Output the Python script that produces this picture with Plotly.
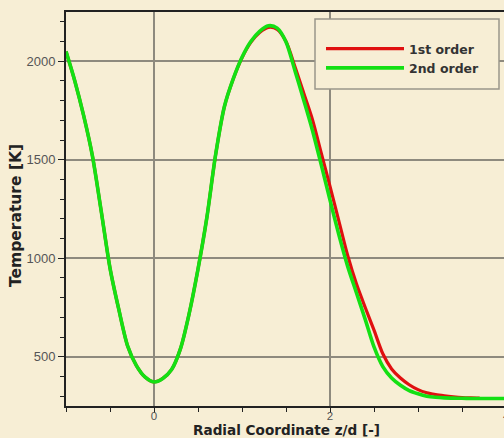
import plotly.graph_objects as go

# ---- data ----
z_2nd = [-1.0, -0.9, -0.8, -0.7, -0.6, -0.5, -0.4, -0.3, -0.2, -0.1,
         0.0, 0.1, 0.2, 0.3, 0.4, 0.5, 0.6, 0.7, 0.8, 0.9,
         1.0, 1.1, 1.2, 1.3, 1.4, 1.5, 1.6, 1.7, 1.8, 1.9,
         2.0, 2.1, 2.2, 2.3, 2.4, 2.5, 2.6, 2.7, 2.8, 2.9,
         3.0, 3.1, 3.2, 3.3, 3.4, 3.5, 3.6, 3.7, 3.8, 3.9, 4.0]
T_2nd = [2050, 1900, 1725, 1520, 1240, 950, 740, 555, 455, 396,
         372, 390, 435, 540, 720, 945, 1205, 1525, 1770, 1910,
         2020, 2100, 2152, 2180, 2168, 2098, 1955, 1805, 1650, 1475,
         1295, 1120, 960, 825, 690, 550, 450, 392, 355, 328,
         312, 300, 294, 291, 290, 289, 288, 288, 288, 288, 288]

z_1st = [-1.0, -0.9, -0.8, -0.7, -0.6, -0.5, -0.4, -0.3, -0.2, -0.1,
         0.0, 0.1, 0.2, 0.3, 0.4, 0.5, 0.6, 0.7, 0.8, 0.9,
         1.0, 1.1, 1.2, 1.3, 1.4, 1.5, 1.6, 1.7, 1.8, 1.9,
         2.0, 2.1, 2.2, 2.3, 2.4, 2.5, 2.6, 2.7, 2.8, 2.9,
         3.0, 3.1, 3.2, 3.3, 3.4, 3.5, 3.6, 3.7]
T_1st = [2050, 1900, 1725, 1520, 1240, 950, 740, 555, 455, 396,
         372, 390, 435, 540, 720, 945, 1205, 1525, 1770, 1910,
         2018, 2096, 2146, 2172, 2162, 2100, 1975, 1840, 1705, 1535,
         1365, 1190, 1015, 870, 750, 635, 515, 438, 392, 358,
         333, 317, 308, 302, 297, 293, 291, 290]

series_names = ["1st order", "2nd order"]
x_tick_vals = [0, 2, 4]
y_tick_vals = [500, 1000, 1500, 2000]
x_title = "Radial Coordinate z/d [-]"
y_title = "Temperature [K]"

BG = "#f7eed5"
GRID = "#8e8a7e"
AXIS = "#222222"

fig = go.Figure()
fig.add_trace(go.Scatter(x=z_1st, y=T_1st, mode="lines", name=series_names[0],
                         line=dict(color="#e01010", width=3.2, shape="spline", smoothing=0.8)))
fig.add_trace(go.Scatter(x=z_2nd, y=T_2nd, mode="lines", name=series_names[1],
                         line=dict(color="#14e014", width=3.6, shape="spline", smoothing=0.8)))

W, H = 504, 438
ML, MR, MT, MB = 66, 0, 12, 32
pw, ph = W - ML - MR, H - MT - MB

def px_x(p):
    return (p - ML) / pw

def px_y(p):
    return (H - MB - p) / ph

title_font = dict(family="DejaVu Sans", weight="bold", color="#222222")

fig.update_layout(
    width=W, height=H,
    margin=dict(l=ML, r=MR, t=MT, b=MB, pad=0, autoexpand=False),
    paper_bgcolor=BG, plot_bgcolor=BG,
    font=dict(family="Liberation Sans, Arial", size=13, color="#555555"),
    xaxis=dict(
        range=[-1, 3.977], tickmode="array", tickvals=x_tick_vals,
        ticks="outside", ticklen=5, tickcolor=AXIS, tickwidth=1,
        ticklabelstandoff=-7,
        showgrid=True, gridcolor=GRID, gridwidth=1.5, zeroline=False,
        showline=True, linecolor=AXIS, linewidth=2, mirror=True,
        automargin=False,
        minor=dict(dtick=0.5, tick0=0, ticks="outside", ticklen=4,
                   tickcolor=AXIS, tickwidth=1, showgrid=False),
        tickfont=dict(family="Liberation Sans, Arial", size=11.5, color="#555555"),
    ),
    yaxis=dict(
        range=[250, 2250], tickmode="array", tickvals=y_tick_vals,
        ticks="outside", ticklen=6, tickcolor=AXIS, tickwidth=1,
        showgrid=True, gridcolor=GRID, gridwidth=1.5, zeroline=False,
        showline=True, linecolor=AXIS, linewidth=2,
        automargin=False,
        minor=dict(dtick=100, tick0=0, ticks="outside", ticklen=4,
                   tickcolor=AXIS, tickwidth=1, showgrid=False),
        tickfont=dict(family="Liberation Sans, Arial", size=13, color="#555555"),
    ),
    showlegend=True,
    legend=dict(
        x=px_x(321), y=px_y(34), xanchor="left", yanchor="top",
        bgcolor="rgba(0,0,0,0)", borderwidth=0, itemwidth=78,
        font=dict(family="DejaVu Sans", size=12.5, weight="bold", color="#333333"),
        tracegroupgap=0,
    ),
    shapes=[dict(type="rect", xref="paper", yref="paper",
                 x0=px_x(315), x1=px_x(499), y0=px_y(89), y1=px_y(19),
                 fillcolor=BG, line=dict(color="#9a968a", width=1.5), layer="above")],
    annotations=[
        dict(text="4", xref="paper", yref="paper", x=px_x(506), y=0,
             yanchor="top", xanchor="center", yshift=-2, showarrow=False,
             font=dict(family="Liberation Sans, Arial", size=11.5, color="#555555")),
        dict(text=x_title, xref="paper", yref="paper", x=px_x(286), y=px_y(430),
             xanchor="center", yanchor="middle", showarrow=False,
             font=dict(size=13.6, **title_font)),
        dict(text=y_title, xref="paper", yref="paper", x=px_x(16), y=px_y(216),
             xanchor="center", yanchor="middle", showarrow=False, textangle=-90,
             font=dict(size=15.5, **title_font)),
    ],
)

fig.write_html("out.html")
